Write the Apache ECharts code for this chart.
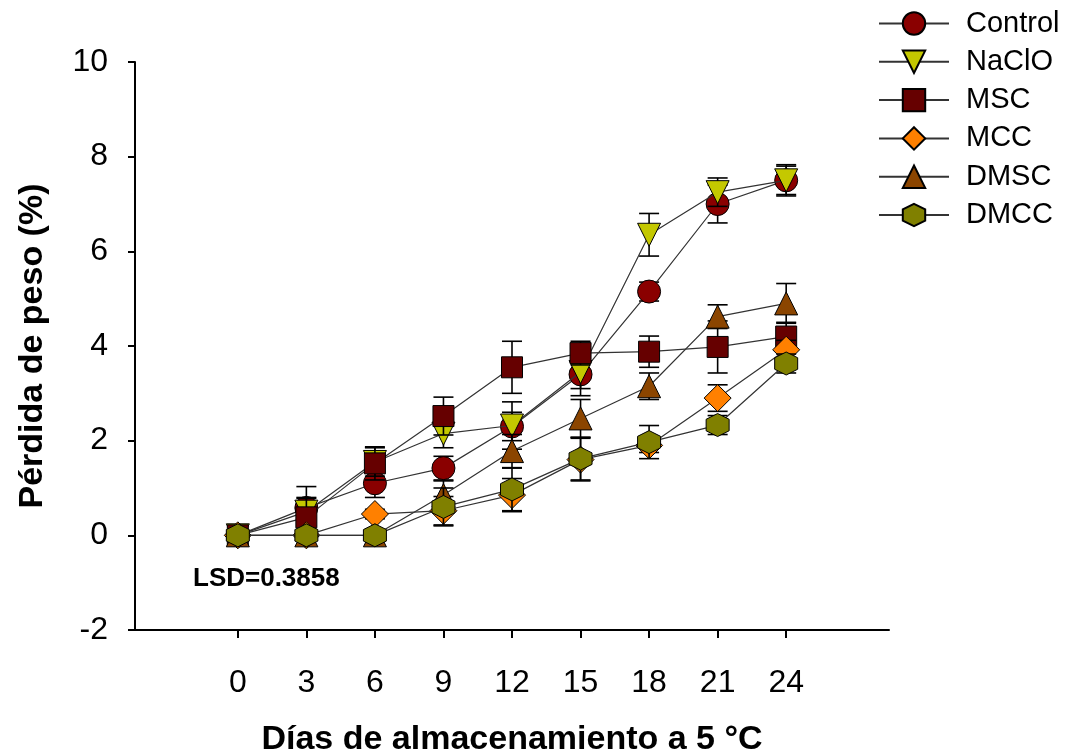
<!DOCTYPE html>
<html>
<head>
<meta charset="utf-8">
<script src="https://cdn.jsdelivr.net/npm/echarts@6/dist/echarts.min.js"></script>
<style>
  html, body { margin: 0; padding: 0; background: #fff; }
  #chart { width: 1077px; height: 755px; }
</style>
</head>
<body>
<div id="chart"></div>
<script>
// Storage days
const days = [0, 3, 6, 9, 12, 15, 18, 21, 24];

// Weight loss (%) per treatment, with error bars
const control    = [0, 0.58, 1.10, 1.42, 2.30, 3.40, 5.15, 7.00, 7.50];
const controlErr = [0, 0.45, 0.30, 0.25, 0.30, 0.30, 0.20, 0.40, 0.30];
const naclo      = [0, 0.50, 1.55, 2.15, 2.32, 3.45, 6.35, 7.25, 7.50];
const nacloErr   = [0, 0.30, 0.30, 0.30, 0.50, 0.50, 0.45, 0.30, 0.33];
const msc        = [0, 0.38, 1.52, 2.52, 3.55, 3.85, 3.88, 3.98, 4.20];
const mscErr     = [0, 0.40, 0.35, 0.40, 0.55, 0.25, 0.33, 0.55, 0.30];
const mcc        = [0, 0, 0.45, 0.52, 0.85, 1.60, 1.90, 2.90, 3.92];
const mccErr     = [0, 0, 0.10, 0.30, 0.35, 0.45, 0.15, 0.28, 0.20];
const dmsc       = [0, 0, 0, 0.85, 1.78, 2.47, 3.15, 4.62, 4.90];
const dmscErr    = [0, 0, 0, 0.30, 0.35, 0.40, 0.28, 0.25, 0.42];
const dmcc       = [0, 0, 0, 0.60, 0.97, 1.62, 1.97, 2.33, 3.63];
const dmccErr    = [0, 0, 0, 0.40, 0.45, 0.45, 0.35, 0.20, 0.20];

const yTicks = [-2, 0, 2, 4, 6, 8, 10];
const lsdText = 'LSD=0.3858';

const hexagon = 'path://M0,-10 L8.66,-5 L8.66,5 L0,10 L-8.66,5 L-8.66,-5 Z';

const groups = [
  { name: 'Control', values: control, errs: controlErr, color: '#8a0000', symbol: 'circle',   size: 23, rotate: 0 },
  { name: 'NaClO',   values: naclo,   errs: nacloErr,   color: '#c4c800', symbol: 'triangle', size: 23, rotate: 180 },
  { name: 'MSC',     values: msc,     errs: mscErr,     color: '#660000', symbol: 'rect',     size: 21, rotate: 0 },
  { name: 'MCC',     values: mcc,     errs: mccErr,     color: '#ff8000', symbol: 'diamond',  size: 27, rotate: 0 },
  { name: 'DMSC',    values: dmsc,    errs: dmscErr,    color: '#8b4500', symbol: 'triangle', size: 23, rotate: 0 },
  { name: 'DMCC',    values: dmcc,    errs: dmccErr,    color: '#808000', symbol: hexagon,    size: 23, rotate: 0 }
];

const FONT = '"Liberation Sans", Arial, sans-serif';

const series = [];
groups.forEach((g, i) => {
  // error bars: vertical whisker with caps
  series.push({
    type: 'custom',
    name: g.name + ' err',
    z: 2 + i * 2,
    silent: true,
    data: days.map((d, k) => [d, g.values[k], g.errs[k]]),
    renderItem: function (params, api) {
      const x = api.value(0), y = api.value(1), e = api.value(2);
      if (!e) return null;
      const top = api.coord([x, y + e]);
      const bot = api.coord([x, y - e]);
      const hw = 10;
      const st = { stroke: '#000', lineWidth: 1.6 };
      return {
        type: 'group',
        children: [
          { type: 'line', shape: { x1: top[0], y1: top[1], x2: bot[0], y2: bot[1] }, style: st },
          { type: 'line', shape: { x1: top[0] - hw, y1: top[1], x2: top[0] + hw, y2: top[1] }, style: st },
          { type: 'line', shape: { x1: bot[0] - hw, y1: bot[1], x2: bot[0] + hw, y2: bot[1] }, style: st }
        ]
      };
    }
  });
  series.push({
    type: 'line',
    name: g.name,
    z: 3 + i * 2,
    data: days.map((d, k) => [d, g.values[k]]),
    symbol: g.symbol,
    symbolSize: g.size,
    symbolRotate: g.rotate,
    showAllSymbol: true,
    lineStyle: { color: '#333', width: 1.2 },
    itemStyle: { color: g.color, borderColor: '#000', borderWidth: 1 },
    emphasis: { disabled: true },
    animation: false
  });
});

const chart = echarts.init(document.getElementById('chart'), null, { renderer: 'canvas' });
chart.setOption({
  animation: false,
  backgroundColor: '#fff',
  textStyle: { fontFamily: FONT },
  grid: { left: 135, right: 188, top: 62, bottom: 125, containLabel: false, outerBoundsMode: 'none' },
  legend: {
    orient: 'vertical',
    left: 873,
    top: 4,
    itemWidth: 70,
    itemHeight: 28,
    itemGap: 9.3,
    data: groups.map(g => g.name),
    textStyle: { fontSize: 29, color: '#000', fontFamily: FONT, padding: [0, 0, 0, 12] }
  },
  xAxis: {
    type: 'value',
    min: -4.5,
    max: 28.5,
    name: 'Días de almacenamiento a 5 °C',
    nameLocation: 'middle',
    nameGap: 93,
    nameTextStyle: { fontSize: 34, fontWeight: 'bold', color: '#000', fontFamily: FONT },
    axisLine: { onZero: false, lineStyle: { color: '#000', width: 2 } },
    axisTick: { show: true, length: 8, inside: false, customValues: days, lineStyle: { color: '#000', width: 2 } },
    axisLabel: { customValues: days, margin: 37, fontSize: 32, color: '#000', fontFamily: FONT },
    splitLine: { show: false }
  },
  yAxis: {
    type: 'value',
    min: -2,
    max: 10,
    interval: 2,
    name: 'Pérdida de peso (%)',
    nameLocation: 'middle',
    nameGap: 85,
    nameRotate: 90,
    nameTextStyle: { fontSize: 34, fontWeight: 'bold', color: '#000', fontFamily: FONT },
    axisLine: { show: true, onZero: false, lineStyle: { color: '#000', width: 2 } },
    axisTick: { show: true, length: 7, inside: false, customValues: yTicks, lineStyle: { color: '#000', width: 2 } },
    axisLabel: { customValues: yTicks, margin: 27, fontSize: 32, color: '#000', fontFamily: FONT },
    splitLine: { show: false }
  },
  graphic: [{
    type: 'text',
    left: 193,
    top: 566,
    style: { text: lsdText, font: 'bold 26px ' + FONT, fill: '#000' }
  }],
  series: series
});
</script>
</body>
</html>
